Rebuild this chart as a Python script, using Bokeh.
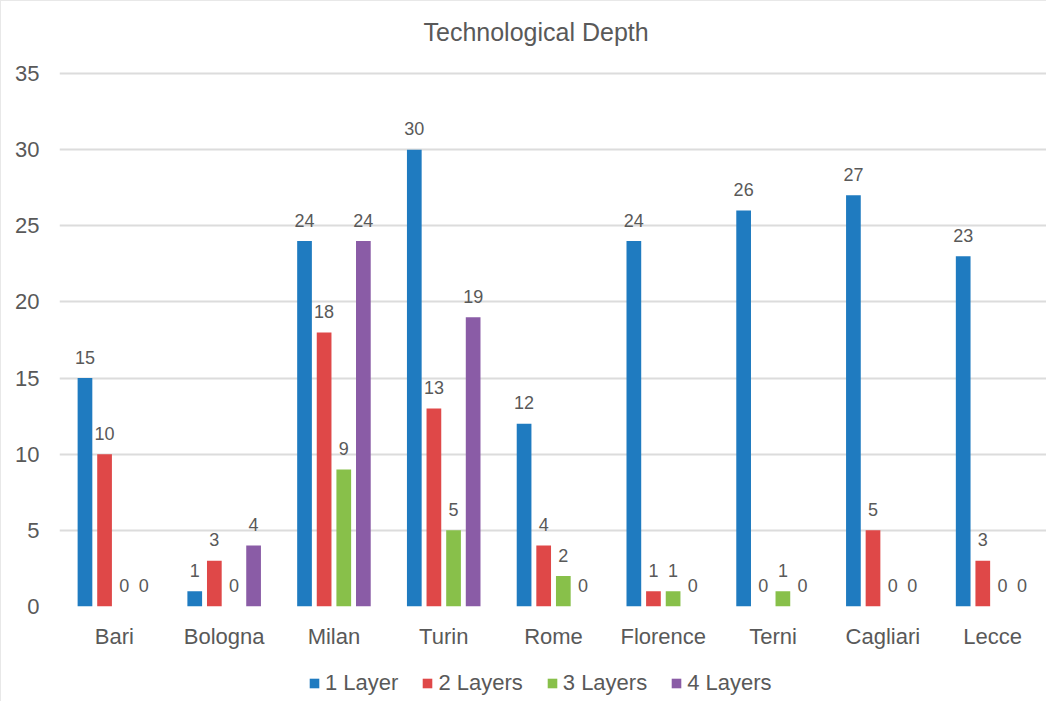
from bokeh.plotting import figure
from bokeh.layouts import column
from bokeh.models import ColumnDataSource, FactorRange, Legend, LegendItem, Range1d, Label
from bokeh.transform import dodge
from bokeh.embed import file_html
from bokeh.resources import INLINE
from bokeh.core.properties import value

cities = ["Bari", "Bologna", "Milan", "Turin", "Rome", "Florence", "Terni", "Cagliari", "Lecce"]
layer1 = [15, 1, 24, 30, 12, 24, 26, 27, 23]
layer2 = [10, 3, 18, 13, 4, 1, 0, 5, 3]
layer3 = [0, 0, 9, 5, 2, 1, 1, 0, 0]
layer4 = [0, 4, 24, 19, 0, 0, 0, 0, 0]
series_names = ["1 Layer", "2 Layers", "3 Layers", "4 Layers"]
y_ticks = [0, 5, 10, 15, 20, 25, 30, 35]
chart_title = "Technological Depth"

colors = ["#1F7BC0", "#DF4848", "#88C04A", "#8A5CA6"]
offsets = [-0.268, -0.0895, 0.0895, 0.268]
FONT = "Liberation Sans"
TXT = "#595959"
BORDER = "1px solid #E8E8E8"

src = ColumnDataSource(dict(city=cities, s0=layer1, s1=layer2, s2=layer3, s3=layer4,
                            l0=[str(v) for v in layer1], l1=[str(v) for v in layer2],
                            l2=[str(v) for v in layer3], l3=[str(v) for v in layer4]))

# title strip
tt = figure(width=1046, height=50, output_backend="svg", toolbar_location=None,
            x_range=Range1d(0, 1), y_range=Range1d(0, 1),
            min_border_left=0, min_border_right=0, min_border_top=0, min_border_bottom=0)
tt.axis.visible = False
tt.grid.grid_line_color = None
tt.outline_line_color = None
tt.styles = {"border-top": BORDER, "border-left": BORDER}
tt.add_layout(Label(x=364, y=20, x_units="screen", y_units="screen", text=chart_title,
                    text_font=FONT, text_font_size="25px", text_color=TXT,
                    text_baseline="middle", text_align="left"))

p = figure(x_range=FactorRange(factors=cities, range_padding=0), y_range=Range1d(0, 35.2),
           width=1046, height=608, output_backend="svg", toolbar_location=None,
           min_border_left=58, min_border_right=0, min_border_top=20, min_border_bottom=52)
p.outline_line_color = None
p.background_fill_color = "white"
p.border_fill_color = "white"

for i in range(4):
    p.vbar(x=dodge("city", offsets[i], range=p.x_range), top="s%d" % i, width=0.134,
           source=src, color=colors[i], line_color=None)
    p.text(x=dodge("city", offsets[i], range=p.x_range), y="s%d" % i, text="l%d" % i,
           source=src, text_align="center", text_baseline="alphabetic", y_offset=-21,
           text_font=value(FONT), text_font_size="18px", text_color=TXT)

p.xgrid.grid_line_color = None
p.ygrid.grid_line_color = "#DCDCDC"
p.ygrid.grid_line_width = 2
p.yaxis.ticker = y_ticks

for ax in (p.xaxis, p.yaxis):
    ax.axis_line_color = None
    ax.major_tick_line_color = None
    ax.minor_tick_line_color = None
    ax.major_tick_out = 0
    ax.major_tick_in = 0
    ax.major_label_text_font = FONT
    ax.major_label_text_font_size = "22px"
    ax.major_label_text_color = TXT
p.yaxis.major_label_standoff = 20
p.xaxis.major_label_standoff = 17
p.styles = {"border-left": BORDER}

# legend strip below the chart (its glyphs sit outside the visible range)
lg = figure(width=1046, height=43, output_backend="svg", toolbar_location=None,
            x_range=Range1d(0, 1), y_range=Range1d(0, 1),
            min_border_left=0, min_border_right=0, min_border_top=0, min_border_bottom=0)
lg.axis.visible = False
lg.grid.grid_line_color = None
lg.outline_line_color = None
lg.styles = {"border-left": BORDER}
items = []
for i in range(4):
    r = lg.vbar(x=[-5], top=[-5], bottom=[-6], width=0.1, color=colors[i], line_color=None)
    items.append(LegendItem(label=series_names[i], renderers=[r]))
legend = Legend(items=items, orientation="horizontal", location=(249, 5),
                border_line_color=None, background_fill_alpha=0, padding=0, margin=0,
                spacing=23, label_standoff=5, glyph_width=12, glyph_height=12,
                label_text_font=FONT, label_text_font_size="22px", label_text_color=TXT,
                label_height=22)
lg.add_layout(legend, "center")

layout = column(tt, p, lg, spacing=0)
open("out.html", "w").write(file_html(layout, INLINE))
